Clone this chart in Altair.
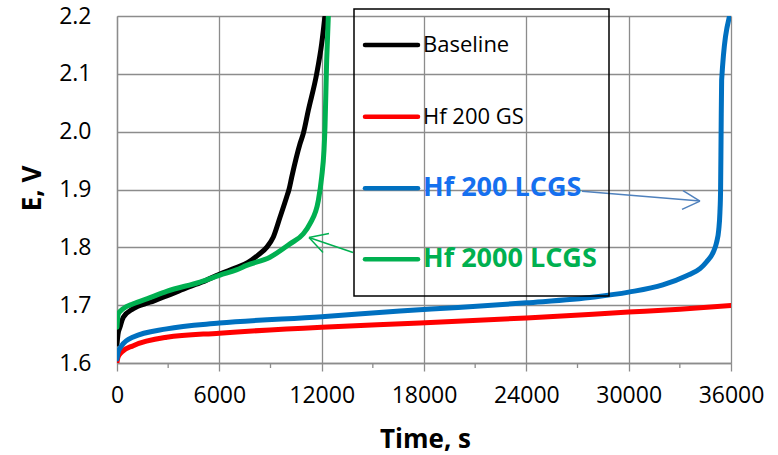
import altair as alt
import pandas as pd

# ---------------- data ----------------
series_names = ["Baseline", "Hf 200 GS", "Hf 200 LCGS", "Hf 2000 LCGS"]
series_colors = ["#000000", "#FF0000", "#0070C0", "#00B050"]
label_colors = ["#000000", "#000000", "#1570EF", "#00B050"]
label_weights = ["normal", "normal", "bold", "bold"]
label_sizes = [22, 22, 27, 27]

baseline_t = [0, 60, 176, 370, 955, 1935, 2912, 4000, 5000, 6040, 7000, 7681, 8286, 8775,
              9166, 9557, 9948, 10085, 10241, 10730, 10925, 11218, 11707, 12000, 12195]
baseline_E = [1.633, 1.650, 1.662, 1.679, 1.694, 1.705, 1.716, 1.729, 1.740, 1.754, 1.765, 1.774,
              1.787, 1.800, 1.818, 1.852, 1.887, 1.900, 1.921, 1.979, 1.997, 2.037, 2.100, 2.152, 2.200]

hf200gs_t = [0, 60, 275, 955, 2912, 6000, 12000, 17765, 24000, 30000, 33000, 36000]
hf200gs_E = [1.601, 1.610, 1.619, 1.630, 1.6446, 1.6516, 1.662, 1.669, 1.678, 1.688, 1.693, 1.6995]

hf200lcgs_t = [0, 60, 275, 955, 2912, 6000, 12000, 16592, 20000, 24000, 28000, 30000, 32000,
               33400, 34182, 34573, 34963, 35150, 35280, 35350, 35390, 35420, 35451, 35900]
hf200lcgs_E = [1.607, 1.618, 1.630, 1.645, 1.659, 1.669, 1.680, 1.690, 1.696, 1.704, 1.714, 1.7225,
               1.735, 1.751, 1.763, 1.775, 1.792, 1.808, 1.830, 1.860, 1.900, 2.000, 2.089, 2.198]

hf2000lcgs_t = [0, 76, 370, 955, 1935, 2912, 4866, 6040, 7000, 7603, 8970, 10143, 10925, 11316,
                11805, 12000, 12137, 12195, 12293, 12391]
hf2000lcgs_E = [1.662, 1.685, 1.694, 1.7024, 1.713, 1.724, 1.740, 1.752, 1.761, 1.7687, 1.783,
                1.806, 1.8235, 1.841, 1.881, 1.9215, 1.968, 2.008, 2.123, 2.200]

x_ticks = [0, 6000, 12000, 18000, 24000, 30000, 36000]
x_minor = [3000, 9000, 15000, 21000, 27000, 33000]
y_ticks = [1.6, 1.7, 1.8, 1.9, 2.0, 2.1, 2.2]

# annotation arrows (data units): shaft + two barbs each
arrow_color = ["#4F81BD", "#4F81BD", "#4F81BD", "#00B050", "#00B050", "#00B050"]
arrow_t1 = [27263, 33185, 33127, 13837, 12430, 12078]
arrow_E1 = [1.897, 1.898, 1.8656, 1.7912, 1.824, 1.791]
arrow_t2 = [34182, 34182, 34182, 11257, 11257, 11257]
arrow_E2 = [1.880, 1.880, 1.880, 1.8171, 1.8171, 1.8171]

# ---------------- chart ----------------
FONT = "Open Sans"
GRID = "#8C8C8C"
W, H = 614, 347

xs = alt.Scale(domain=[0, 36000], nice=False, zero=False)
ys = alt.Scale(domain=[1.6, 2.2], nice=False, zero=False)

xaxis = alt.Axis(values=x_ticks, title="Time, s", format="d", grid=True, gridColor=GRID,
                 gridWidth=1.3, domainColor=GRID, domainWidth=1.3, tickColor=GRID, tickWidth=1.3,
                 tickSize=8, labelFont=FONT, labelFontSize=23, labelColor="black", labelPadding=13,
                 labelOverlap=False, labelFlush=False, labelBound=False,
                 titleFont=FONT, titleFontSize=26, titleFontWeight="bold", titleColor="black",
                 titleX=308, titleY=76, titleAlign="center", titleBaseline="middle")
yaxis = alt.Axis(values=y_ticks, title="E, V", format=".1f", grid=True, gridColor=GRID,
                 gridWidth=1.3, domainColor=GRID, domainWidth=1.3, ticks=False, tickSize=0,
                 labelFont=FONT, labelFontSize=23, labelColor="black", labelPadding=26,
                 labelOverlap=False, labelFlush=False, labelBound=False,
                 titleFont=FONT, titleFontSize=26, titleFontWeight="bold", titleColor="black",
                 titleAngle=270, titleX=-85, titleY=172, titleAlign="center", titleBaseline="middle")


def X(field):
    return alt.X(field, type="quantitative", scale=xs, axis=xaxis)


def Y(field):
    return alt.Y(field, type="quantitative", scale=ys, axis=yaxis)


all_t = [baseline_t, hf200gs_t, hf200lcgs_t, hf2000lcgs_t]
all_E = [baseline_E, hf200gs_E, hf200lcgs_E, hf2000lcgs_E]

layers = []

minor_df = pd.DataFrame({"t": x_minor})
layers.append(
    alt.Chart(minor_df).mark_rule(color=GRID, strokeWidth=1.3).encode(
        x=X("t"), y=alt.value(H), y2=alt.value(H + 5))
)

for name, color, ts, es in zip(series_names, series_colors, all_t, all_E):
    df = pd.DataFrame({"t": ts, "E": es, "order": range(len(ts))})
    layers.append(
        alt.Chart(df).mark_line(color=color, strokeWidth=5, clip=True, strokeJoin="round",
                                strokeCap="round", interpolate="monotone").encode(
            x=X("t"), y=Y("E"), order="order:Q")
    )

arrow_df = pd.DataFrame({"t1": arrow_t1, "E1": arrow_E1, "t2": arrow_t2, "E2": arrow_E2,
                         "c": arrow_color})
layers.append(
    alt.Chart(arrow_df).mark_rule(strokeWidth=1.5).encode(
        x=X("t1"), y=Y("E1"), x2="t2:Q", y2="E2:Q",
        color=alt.Color("c:N", scale=None))
)

# legend box (drawn manually, transparent like the original)
BOX_L, BOX_R, BOX_T, BOX_B = 237, 492, -7, 280
layers.append(
    alt.Chart(pd.DataFrame({"a": [0]})).mark_rect(fill=None, stroke="black", strokeWidth=1.5,
                                                  fillOpacity=0).encode(
        x=alt.value(BOX_L), x2=alt.value(BOX_R), y=alt.value(BOX_T), y2=alt.value(BOX_B))
)
row_y = [29, 100.7, 172.3, 243.3]
for i, name in enumerate(series_names):
    layers.append(
        alt.Chart(pd.DataFrame({"a": [0]})).mark_rule(color=series_colors[i], strokeWidth=4.5,
                                                      strokeCap="round").encode(
            x=alt.value(248), x2=alt.value(301), y=alt.value(row_y[i]), y2=alt.value(row_y[i]))
    )
    layers.append(
        alt.Chart(pd.DataFrame({"a": [0]})).mark_text(
            text=name, align="left", baseline="middle", font=FONT, fontSize=label_sizes[i],
            fontWeight=label_weights[i], color=label_colors[i]).encode(
            x=alt.value(306), y=alt.value(row_y[i]))
    )

chart = alt.layer(*layers).properties(
    width=W, height=H,
    autosize=alt.AutoSizeParams(type="none"),
    padding={"left": 117, "top": 16, "right": 47, "bottom": 92},
    background="white",
).configure_view(stroke=None)

chart.save("out.html", embed_options={"renderer": "svg", "actions": False})
